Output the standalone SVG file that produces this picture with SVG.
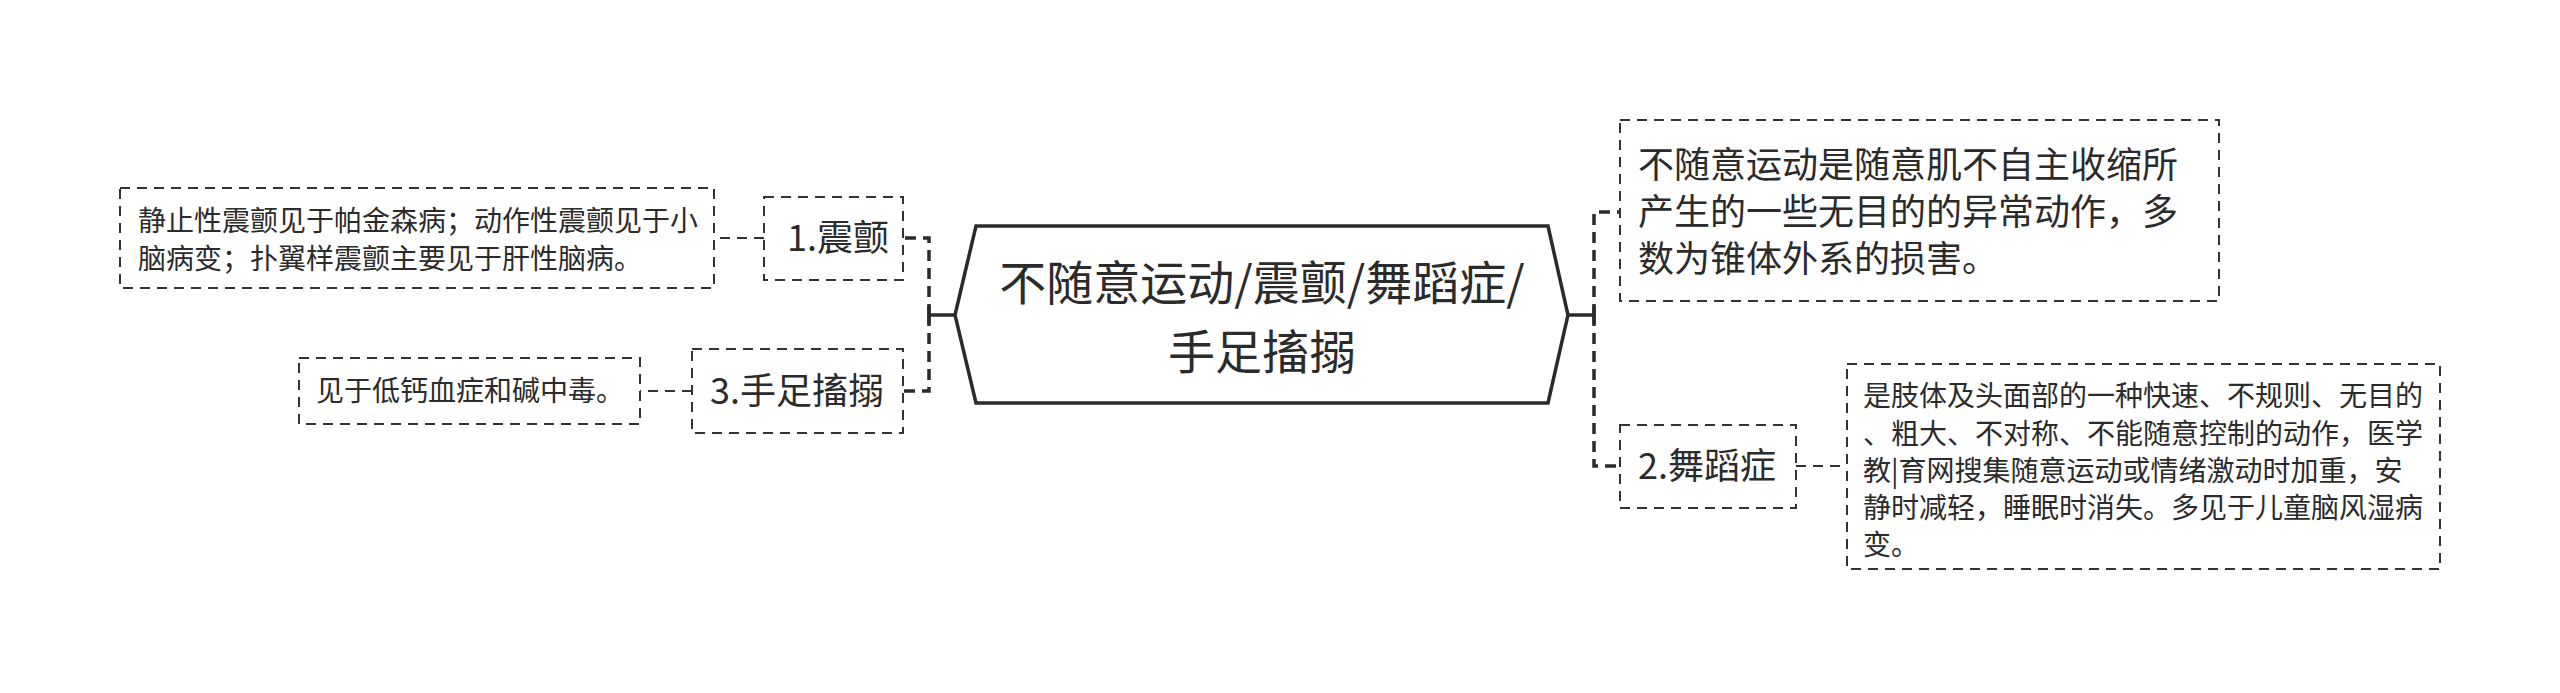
<svg xmlns="http://www.w3.org/2000/svg" width="2560" height="693" viewBox="0 0 2560 693">
<style>
text{font-family:"Noto Sans CJK SC","Noto Sans",sans-serif;fill:#2b2b2b}
.box{fill:#fff;stroke:#333;stroke-width:2;stroke-dasharray:10 7}
.conn{fill:none;stroke:#2b2b2b;stroke-width:3.5;stroke-dasharray:11 7}
.thin{fill:none;stroke:#333;stroke-width:2;stroke-dasharray:10 7}
.solid{fill:none;stroke:#2b2b2b;stroke-width:3.5}
.s28{font-size:28px}
.s36{font-size:36px}
</style>
<rect width="2560" height="693" fill="#fff"/>
<g id="connectors">
  <path class="solid" d="M929,315 H955 M929,306 V324"/>
  <path class="conn" d="M929,315 V238 H903"/>
  <path class="conn" d="M929,315 V391 H903"/>
  <path class="thin" d="M764,238 H714"/>
  <path class="thin" d="M692,391 H640"/>
  <path class="solid" d="M1568,315 H1594 M1594,306 V324"/>
  <path class="conn" d="M1594,315 V212 H1620"/>
  <path class="conn" d="M1594,315 V466 H1620"/>
  <path class="thin" d="M1796,466 H1847"/>
</g>
<g id="root">
  <polygon points="955,315 976,226 1548,226 1568,315 1548,403 976,403" fill="#fff" stroke="#2b2b2b" stroke-width="3.5"/>
  <text text-anchor="middle" font-size="47"><tspan x="1262" y="300">不随意运动/震颤/舞蹈症/</tspan><tspan x="1262" y="369">手足搐搦</tspan></text>
</g>
<g id="n1">
  <rect class="box" x="764" y="197" width="139" height="83"/>
  <text class="s36" x="787" y="251">1.震颤</text>
</g>
<g id="n1a">
  <rect class="box" x="120" y="188" width="594" height="100"/>
  <text class="s28" x="138" y="231">静止性震颤见于帕金森病；动作性震颤见于小</text>
  <text class="s28" x="138" y="269">脑病变；扑翼样震颤主要见于肝性脑病。</text>
</g>
<g id="n3">
  <rect class="box" x="692" y="349" width="211" height="84"/>
  <text class="s36" x="710" y="404">3.手足搐搦</text>
</g>
<g id="n3a">
  <rect class="box" x="299" y="358" width="341" height="66"/>
  <text class="s28" x="316" y="401">见于低钙血症和碱中毒。</text>
</g>
<g id="nd">
  <rect class="box" x="1620" y="120" width="599" height="181"/>
  <text class="s36" x="1638" y="178">不随意运动是随意肌不自主收缩所</text>
  <text class="s36" x="1638" y="225">产生的一些无目的的异常动作，多</text>
  <text class="s36" x="1638" y="272">数为锥体外系的损害。</text>
</g>
<g id="n2">
  <rect class="box" x="1620" y="425" width="176" height="83"/>
  <text class="s36" x="1638" y="479">2.舞蹈症</text>
</g>
<g id="n2a">
  <rect class="box" x="1847" y="364" width="593" height="205"/>
  <text class="s28" x="1863" y="406">是肢体及头面部的一种快速、不规则、无目的</text>
  <text class="s28" x="1863" y="444">、粗大、不对称、不能随意控制的动作，医学</text>
  <text class="s28" x="1863" y="481">教|育网搜集随意运动或情绪激动时加重，安</text>
  <text class="s28" x="1863" y="518">静时减轻，睡眠时消失。多见于儿童脑风湿病</text>
  <text class="s28" x="1863" y="555">变。</text>
</g>
</svg>
